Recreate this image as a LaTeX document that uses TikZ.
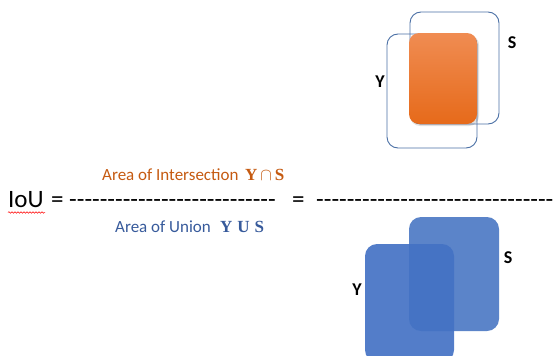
\documentclass[tikz,border=0pt]{standalone}
\usepackage{fontspec}
\setmainfont{Carlito}[Ligatures=TeXOff]
\newfontfamily\serifb{Liberation Serif}
\usetikzlibrary{decorations.pathmorphing}
\definecolor{frameblue}{RGB}{74,111,165}
\definecolor{orangetop}{RGB}{240,140,82}
\definecolor{orangebot}{RGB}{230,106,26}
\definecolor{sblue}{RGB}{91,132,201}
\definecolor{yblue}{RGB}{68,114,196}
\definecolor{txtorange}{RGB}{197,90,17}
\definecolor{txtblue}{RGB}{55,90,155}
\tikzset{
  outline/.style={draw=frameblue, line width=0.9pt, rounded corners=11pt},
  setlabel/.style={font=\fontsize{18}{20}\selectfont\bfseries, text=black, inner sep=0pt},
  bigtext/.style={font=\fontsize{25}{28}\selectfont, inner sep=0pt, anchor=base west},
  areatext/.style={font=\fontsize{17}{20}\selectfont, inner sep=0pt, anchor=base west},
  symtext/.style={font=\fontsize{17}{20}\selectfont\serifb\bfseries, inner sep=0pt, anchor=base west}
}
\begin{document}
\begin{tikzpicture}[x=1pt,y=-1pt]
\useasboundingbox (0,0) rectangle (557,356);

% intersection: two outlined boxes and the shaded overlap
\draw[outline] (410,12) rectangle (499,124);
\draw[outline] (387,34) rectangle (477,148);
\fill[black, opacity=0.12, rounded corners=10pt] (410,35) rectangle (479,126);
\shade[top color=orangetop, bottom color=orangebot, rounded corners=10pt] (409,33) rectangle (477,124);
\node[setlabel] (sTop) at (512,43) {S};
\node[setlabel] (yTop) at (380,82) {Y};

% union: two filled boxes
\fill[sblue, rounded corners=12pt] (409,217) rectangle (499,331);
\fill[yblue, opacity=0.92, rounded corners=12pt] (365,244) rectangle (454,362);
\node[setlabel] (sBot) at (508,258) {S};
\node[setlabel] (yBot) at (357,290) {Y};

% formula line
\node[bigtext] (iou) at (8,207) {IoU};
\draw[red, line width=0.5pt, decorate, decoration={snake, amplitude=0.8pt, segment length=3pt}]
  (8,212.5) -- (45,212.5);
\node[bigtext] (eqA) at (51,207) {=};
\node[bigtext] (dashA) at (69,207) {---------------------------};
\node[bigtext] (eqB) at (292,207) {=};
\node[bigtext] (dashB) at (316,207) {-------------------------------};

% numerator and denominator
\node[areatext, text=txtorange] (num) at (102,180) {Area of Intersection};
\node[symtext, text=txtorange] (numSym) at (245,180) {Y\kern3pt$\cap$\kern3pt S};
\node[areatext, text=txtblue] (den) at (115,232) {Area of Union};
\node[symtext, text=txtblue] (denSym) at (220,232) {Y\kern5pt U\kern5pt S};
\end{tikzpicture}
\end{document}
